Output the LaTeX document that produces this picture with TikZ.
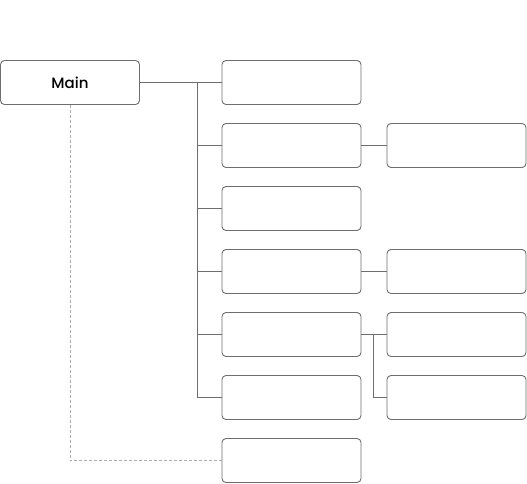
\documentclass[tikz,border=0pt]{standalone}
\usepackage{fontspec}
\setmainfont{Poppins}[BoldFont={Poppins Medium}]
\usetikzlibrary{positioning}
\definecolor{linegray}{HTML}{6E6E6E}
\definecolor{dashgray}{HTML}{ABABAB}
\tikzset{
    box/.style={
        draw=linegray,fill=white,
        line width=0.9pt,
        rounded corners=4pt,
        minimum width=139pt,minimum height=44pt,
        inner sep=0pt,
        font=\fontsize{15}{17}\selectfont\bfseries
    },
    link/.style={draw=linegray,line width=0.9pt},
    dashlink/.style={draw=dashgray,line width=0.9pt,dash pattern=on 3pt off 2pt}
}

\begin{document}
\begin{tikzpicture}[x=1pt,y=-1pt]
    \useasboundingbox (0,0) rectangle (527,483);
    \node[box] (main) at (70,82.5) {Main};
    % first column
    \foreach \i in {1,...,7} {
        \node[box] (c\i) at (291.5,{82.5+63*(\i-1)}) {};
    }
    % second column
    \foreach \i in {2,4,5,6} {
        \node[box] (r\i) at (456.5,{82.5+63*(\i-1)}) {};
    }
    \coordinate (trunk) at (197.5,82.5);
    \coordinate (fork) at (373.5,334.5);
    \draw[link] (main.east) -- (c1.west);
    \draw[link] (trunk) |- (c6.west);
    \foreach \i in {2,...,5} {
        \draw[link] (trunk |- c\i.west) -- (c\i.west);
    }
    \draw[link] (c2.east) -- (r2.west);
    \draw[link] (c4.east) -- (r4.west);
    \draw[link] (c5.east) -- (r5.west);
    \draw[link] (fork |- c5.east) |- (r6.west);
    \draw[dashlink] (main.south) |- (c7.west);
\end{tikzpicture}
\end{document}
